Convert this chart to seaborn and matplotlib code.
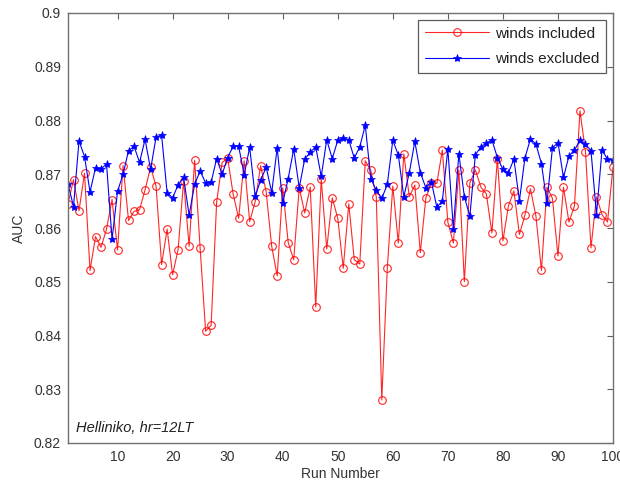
import numpy as np
import pandas as pd
import matplotlib
matplotlib.use("Agg")
import matplotlib.pyplot as plt
import seaborn as sns
from matplotlib.ticker import FormatStrFormatter

run_number = list(range(1, 101))

winds_included = [
    0.8645, 0.8690, 0.8632, 0.8702, 0.8521, 0.8584, 0.8564, 0.8598, 0.8653, 0.8559,
    0.8716, 0.8614, 0.8631, 0.8634, 0.8671, 0.8713, 0.8678, 0.8532, 0.8598, 0.8513,
    0.8560, 0.8688, 0.8566, 0.8726, 0.8563, 0.8408, 0.8419, 0.8648, 0.8722, 0.8730,
    0.8663, 0.8618, 0.8725, 0.8612, 0.8649, 0.8716, 0.8667, 0.8566, 0.8511, 0.8675,
    0.8573, 0.8541, 0.8675, 0.8628, 0.8676, 0.8453, 0.8691, 0.8561, 0.8656, 0.8618,
    0.8525, 0.8645, 0.8541, 0.8533, 0.8725, 0.8707, 0.8658, 0.8280, 0.8525, 0.8678,
    0.8572, 0.8738, 0.8658, 0.8680, 0.8554, 0.8656, 0.8683, 0.8683, 0.8745, 0.8611,
    0.8572, 0.8708, 0.8500, 0.8684, 0.8708, 0.8676, 0.8663, 0.8591, 0.8729, 0.8576,
    0.8641, 0.8669, 0.8588, 0.8624, 0.8673, 0.8622, 0.8521, 0.8676, 0.8655, 0.8548,
    0.8676, 0.8611, 0.8641, 0.8818, 0.8742, 0.8563, 0.8658, 0.8625, 0.8611, 0.8713,
]

winds_excluded = [
    0.8682, 0.8640, 0.8762, 0.8733, 0.8667, 0.8712, 0.8710, 0.8719, 0.8579, 0.8668,
    0.8700, 0.8744, 0.8752, 0.8722, 0.8765, 0.8709, 0.8769, 0.8773, 0.8666, 0.8656,
    0.8680, 0.8694, 0.8624, 0.8681, 0.8706, 0.8684, 0.8685, 0.8729, 0.8700, 0.8731,
    0.8752, 0.8752, 0.8699, 0.8750, 0.8659, 0.8689, 0.8713, 0.8666, 0.8749, 0.8647,
    0.8692, 0.8747, 0.8675, 0.8728, 0.8741, 0.8751, 0.8696, 0.8764, 0.8729, 0.8763,
    0.8768, 0.8764, 0.8730, 0.8751, 0.8791, 0.8692, 0.8670, 0.8655, 0.8681, 0.8763,
    0.8736, 0.8658, 0.8703, 0.8761, 0.8703, 0.8675, 0.8686, 0.8639, 0.8650, 0.8747,
    0.8599, 0.8738, 0.8658, 0.8622, 0.8736, 0.8751, 0.8758, 0.8764, 0.8731, 0.8709,
    0.8703, 0.8728, 0.8651, 0.8730, 0.8766, 0.8756, 0.8720, 0.8647, 0.8749, 0.8759,
    0.8694, 0.8734, 0.8745, 0.8763, 0.8756, 0.8744, 0.8625, 0.8745, 0.8728, 0.8726,
]

x_ticks = [10, 20, 30, 40, 50, 60, 70, 80, 90, 100]
y_ticks = [0.82, 0.83, 0.84, 0.85, 0.86, 0.87, 0.88, 0.89, 0.90]

sns.set_style("white")
plt.rcParams["font.family"] = ["Liberation Sans", "DejaVu Sans"]

fig = plt.figure(figsize=(6.2, 4.84), dpi=100)
ax = fig.add_axes([68 / 620, 41 / 484, 545 / 620, 430 / 484])

sns.lineplot(x=run_number, y=winds_included, ax=ax, color="#ff0000", lw=0.8,
             marker="o", markersize=5.5, markerfacecolor="none",
             markeredgecolor="#ff0000", markeredgewidth=0.8,
             label="winds included", alpha=0.85)
sns.lineplot(x=run_number, y=winds_excluded, ax=ax, color="#0000ff", lw=0.8,
             marker="*", markersize=6, markerfacecolor="#0000ff",
             markeredgecolor="#0000ff", markeredgewidth=0.5,
             label="winds excluded")

ax.set_xlim(1, 100)
ax.set_ylim(0.82, 0.90)
ax.set_xticks(x_ticks)
ax.set_yticks(y_ticks)
ax.yaxis.set_major_formatter(FormatStrFormatter("%g"))
ax.tick_params(direction="in", length=4, width=0.8, top=True, right=True,
               colors="#606060", labelcolor="#333333", labelsize=10, pad=5)
for s in ax.spines.values():
    s.set_color("#707070")
    s.set_linewidth(1.0)

ax.set_xlabel("Run Number", fontsize=10, color="#333333", labelpad=2)
ax.set_ylabel("AUC", fontsize=10, color="#333333", labelpad=6)

ax.text(2.5, 0.8214, "Helliniko, hr=12LT", fontsize=10.5, style="italic",
        color="#222222", ha="left", va="bottom")

leg = ax.legend(loc="upper right", fontsize=11, frameon=True, fancybox=False,
                handlelength=4.2, borderaxespad=0.45, borderpad=0.45,
                labelspacing=0.75, handletextpad=0.4)
leg.get_frame().set_edgecolor("#333333")
leg.get_frame().set_linewidth(0.9)
for t in leg.get_texts():
    t.set_color("#222222")

fig.savefig("out.png", dpi=100, facecolor="white")
